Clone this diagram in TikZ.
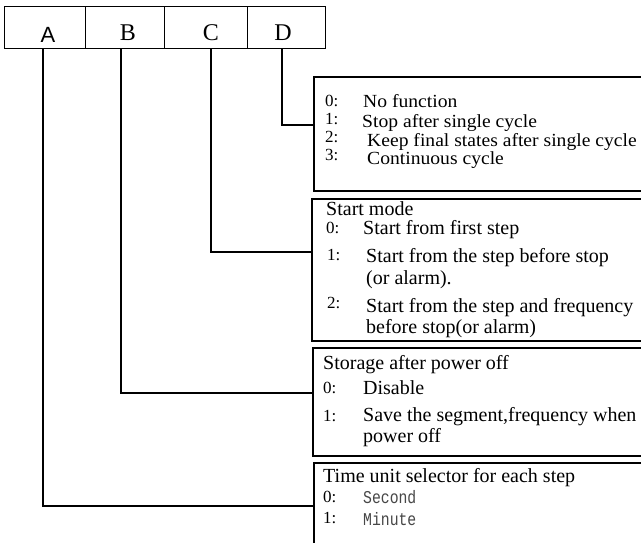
\documentclass[tikz,border=0pt]{standalone}
\usepackage{fontspec}
\setmainfont{Liberation Serif}
\newfontfamily\sansA{Liberation Sans}
\newfontfamily\monoA[FakeStretch=0.82]{Liberation Mono}
\newfontfamily\serifD[FakeStretch=1.06]{Liberation Serif}
\begin{document}
\begin{tikzpicture}[x=1pt,y=-1pt,
  txt/.style={anchor=base west,inner sep=0pt,font=\fontsize{20}{22}\selectfont},
  txtd/.style={anchor=base west,inner sep=0pt,font=\serifD\fontsize{18.5}{20}\selectfont},
  num/.style={anchor=base west,inner sep=0pt,font=\fontsize{17}{19}\selectfont},
  mono/.style={anchor=base west,inner sep=0pt,font=\monoA\fontsize{18}{20}\selectfont,text=black!72},
  letter/.style={anchor=base,inner sep=0pt,font=\fontsize{24}{26}\selectfont},
  cell/.style={draw,line width=1.4pt,anchor=north west,inner sep=0pt,minimum height=42pt},
  optbox/.style={draw,line width=2pt,anchor=north west,inner sep=0pt,minimum width=400pt},
  wire/.style={line width=2pt}]
\useasboundingbox (0,0) rectangle (641,542);
\clip (0,0) rectangle (641,542);
\fill[white] (0,0) rectangle (641,542);
% top bar
\node[cell,minimum width=81pt] (cellA) at (4,6) {};
\node[cell,minimum width=79pt] (cellB) at (85,6) {};
\node[cell,minimum width=83pt] (cellC) at (164,6) {};
\node[cell,minimum width=78pt] (cellD) at (247,6) {};
\node[letter,font=\sansA\fontsize{22}{24}\selectfont] (lA) at (48,42) {A};
\node[letter] (lB) at (128,40) {B};
\node[letter] (lC) at (211,40) {C};
\node[letter] (lD) at (283,40) {D};
% boxes
\node[optbox,minimum height=114pt] (boxD) at (313,76) {};
\node[optbox,minimum height=142pt] (boxC) at (311,198) {};
\node[optbox,minimum height=108pt] (boxB) at (312,347) {};
\node[optbox,minimum height=120pt] (boxA) at (313,462) {};
% connector points
\coordinate (tA) at (43,48); \coordinate (tB) at (121,48);
\coordinate (tC) at (211,48); \coordinate (tD) at (282,48);
\coordinate (eD) at (313,125); \coordinate (eC) at (311,252);
\coordinate (eB) at (312,393); \coordinate (eA) at (313,506);
\draw[wire] (tD) |- (eD);
\draw[wire] (tC) |- (eC);
\draw[wire] (tB) |- (eB);
\draw[wire] (tA) |- (eA);
% box D text
\node[num] (d0n) at (325,106) {0:}; \node[txtd] (d0t) at (363,107) {No function};
\node[num] (d1n) at (325,124) {1:}; \node[txtd] (d1t) at (362,127) {Stop after single cycle};
\node[num] (d2n) at (325,142) {2:}; \node[txtd] (d2t) at (367,146) {Keep final states after single cycle};
\node[num] (d3n) at (325,160) {3:}; \node[txtd] (d3t) at (367,164) {Continuous cycle};
% box C text
\node[txt] (ct) at (326,215) {Start mode};
\node[num] (c0n) at (326,233) {0:}; \node[txt] (c0t) at (363,234) {Start from first step};
\node[num] (c1n) at (327,260) {1:}; \node[txt] (c1t) at (366,262) {Start from the step before stop};
\node[txt] (c1u) at (366,284) {(or alarm).};
\node[num] (c2n) at (327,308) {2:}; \node[txt] (c2t) at (366,312) {Start from the step and frequency};
\node[txt] (c2u) at (366,333) {before stop(or alarm)};
% box B text
\node[txt] (bt) at (323,369) {Storage after power off};
\node[num] (b0n) at (323,393) {0:}; \node[txt] (b0t) at (363,394) {Disable};
\node[num] (b1n) at (323,421) {1:}; \node[txt] (b1t) at (363,421) {Save the segment,frequency when};
\node[txt] (b1u) at (363,442) {power off};
% box A text
\node[txt] (at) at (323,482) {Time unit selector for each step};
\node[num] (a0n) at (323,502) {0:}; \node[mono] (a0t) at (363,503) {Second};
\node[num] (a1n) at (323,523) {1:}; \node[mono] (a1t) at (363,525) {Minute};
\end{tikzpicture}
\end{document}
